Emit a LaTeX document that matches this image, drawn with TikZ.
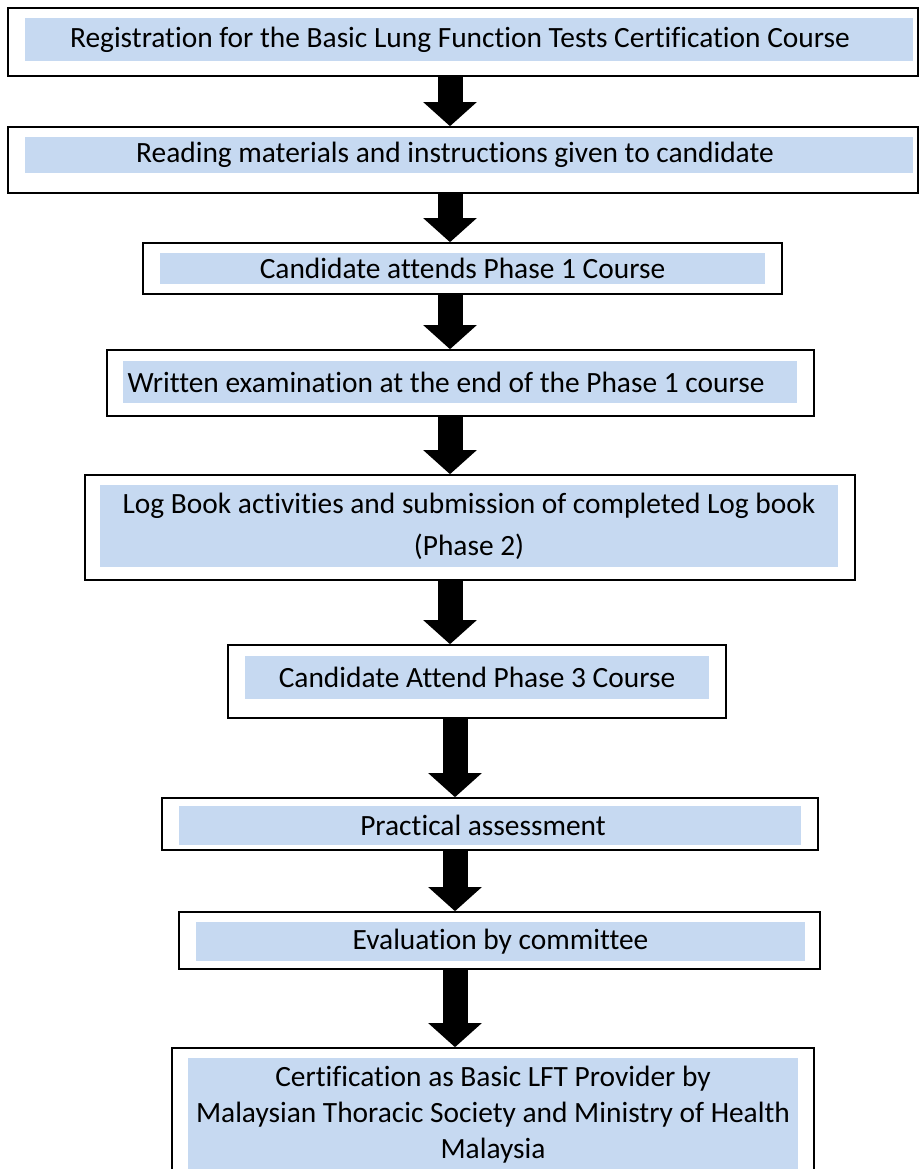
\documentclass[tikz,border=0pt]{standalone}
\usepackage{fontspec}
\setmainfont{Carlito}[Ligatures=NoCommon]
\usepackage{xcolor}
\usetikzlibrary{arrows.meta,calc,positioning}
\definecolor{shadeblue}{HTML}{C6D9F1}

\begin{document}
\begin{tikzpicture}[x=1pt,y=-1pt]

\tikzset{stepframe/.style={draw, line width=1.6pt, inner sep=0pt},
  stepfill/.style={fill=shadeblue, inner sep=0pt, align=center, font=\fontsize{29.4}{36}\selectfont},
  fatarrow/.style={line width=25pt, -{Triangle[length=24pt,width=52pt]}}}

\useasboundingbox (0,0) rectangle (920,1169);
\clip (0,0) rectangle (920,1169);

% where the arrows run down
\coordinate (axis) at (450,0);
\coordinate (axisb) at (455,0);

\node[stepframe, minimum width=910pt, minimum height=68pt] (reg) at (463,42) {};
\node[stepfill, minimum width=888pt, minimum height=43pt] (regtxt) at (469,39.5)
  {Registration for the Basic Lung Function Tests Certification Course\hspace*{18pt}};

\node[stepframe, minimum width=910pt, minimum height=66pt] (read) at (463,160) {};
\node[stepfill, minimum width=888pt, minimum height=36pt] (readtxt) at (469,155)
  {Reading materials and instructions given to candidate\hspace*{28pt}};

\node[stepframe, minimum width=639pt, minimum height=51pt] (phaseone) at (462.5,268.5) {};
\node[stepfill, minimum width=605pt, minimum height=31pt] (phaseonetxt) at (462.5,268.5)
  {Candidate attends Phase 1 Course};

\node[stepframe, minimum width=707pt, minimum height=66pt] (exam) at (460.5,383) {};
\node[stepfill, minimum width=674pt, minimum height=42pt] (examtxt) at (460,382)
  {Written examination at the end of the Phase 1 course\hspace*{28pt}};

\node[stepframe, minimum width=770pt, minimum height=105pt] (logbook) at (470,527.5) {};
\node[stepfill, minimum width=738pt, minimum height=82pt, font=\fontsize{29.4}{42}\selectfont]
  (logbooktxt) at (469,526)
  {Log Book activities and submission of completed Log book\\(Phase 2)};

\node[stepframe, minimum width=498pt, minimum height=73pt] (phasethree) at (477,681.5) {};
\node[stepfill, minimum width=464pt, minimum height=43pt] (phasethreetxt) at (477,677.5)
  {Candidate Attend Phase 3 Course};

\node[stepframe, minimum width=656pt, minimum height=52pt] (practical) at (490,824) {};
\node[stepfill, minimum width=622pt, minimum height=39pt] (practicaltxt) at (490,825.5)
  {Practical assessment\hspace*{14pt}};

\node[stepframe, minimum width=641pt, minimum height=57pt] (evaluation) at (499.5,940.5) {};
\node[stepfill, minimum width=609pt, minimum height=39pt] (evaluationtxt) at (500.5,941.5)
  {Evaluation by committee};

\node[stepframe, minimum width=642pt, minimum height=152pt] (cert) at (493,1124) {};
\node[stepfill, minimum width=610pt, minimum height=114pt] (certtxt) at (493,1115)
  {Certification as Basic LFT Provider by\\Malaysian Thoracic Society and Ministry of Health\\Malaysia};

\draw[fatarrow] (reg.south -| axis) -- (read.north -| axis);
\draw[fatarrow] (read.south -| axis) -- (phaseone.north -| axis);
\draw[fatarrow] (phaseone.south -| axis) -- (exam.north -| axis);
\draw[fatarrow] (exam.south -| axis) -- (logbook.north -| axis);
\draw[fatarrow] (logbook.south -| axis) -- (phasethree.north -| axis);
\draw[fatarrow] (phasethree.south -| axisb) -- (practical.north -| axisb);
\draw[fatarrow] (practical.south -| axisb) -- (evaluation.north -| axisb);
\draw[fatarrow] (evaluation.south -| axisb) -- (cert.north -| axisb);

\end{tikzpicture}
\end{document}
